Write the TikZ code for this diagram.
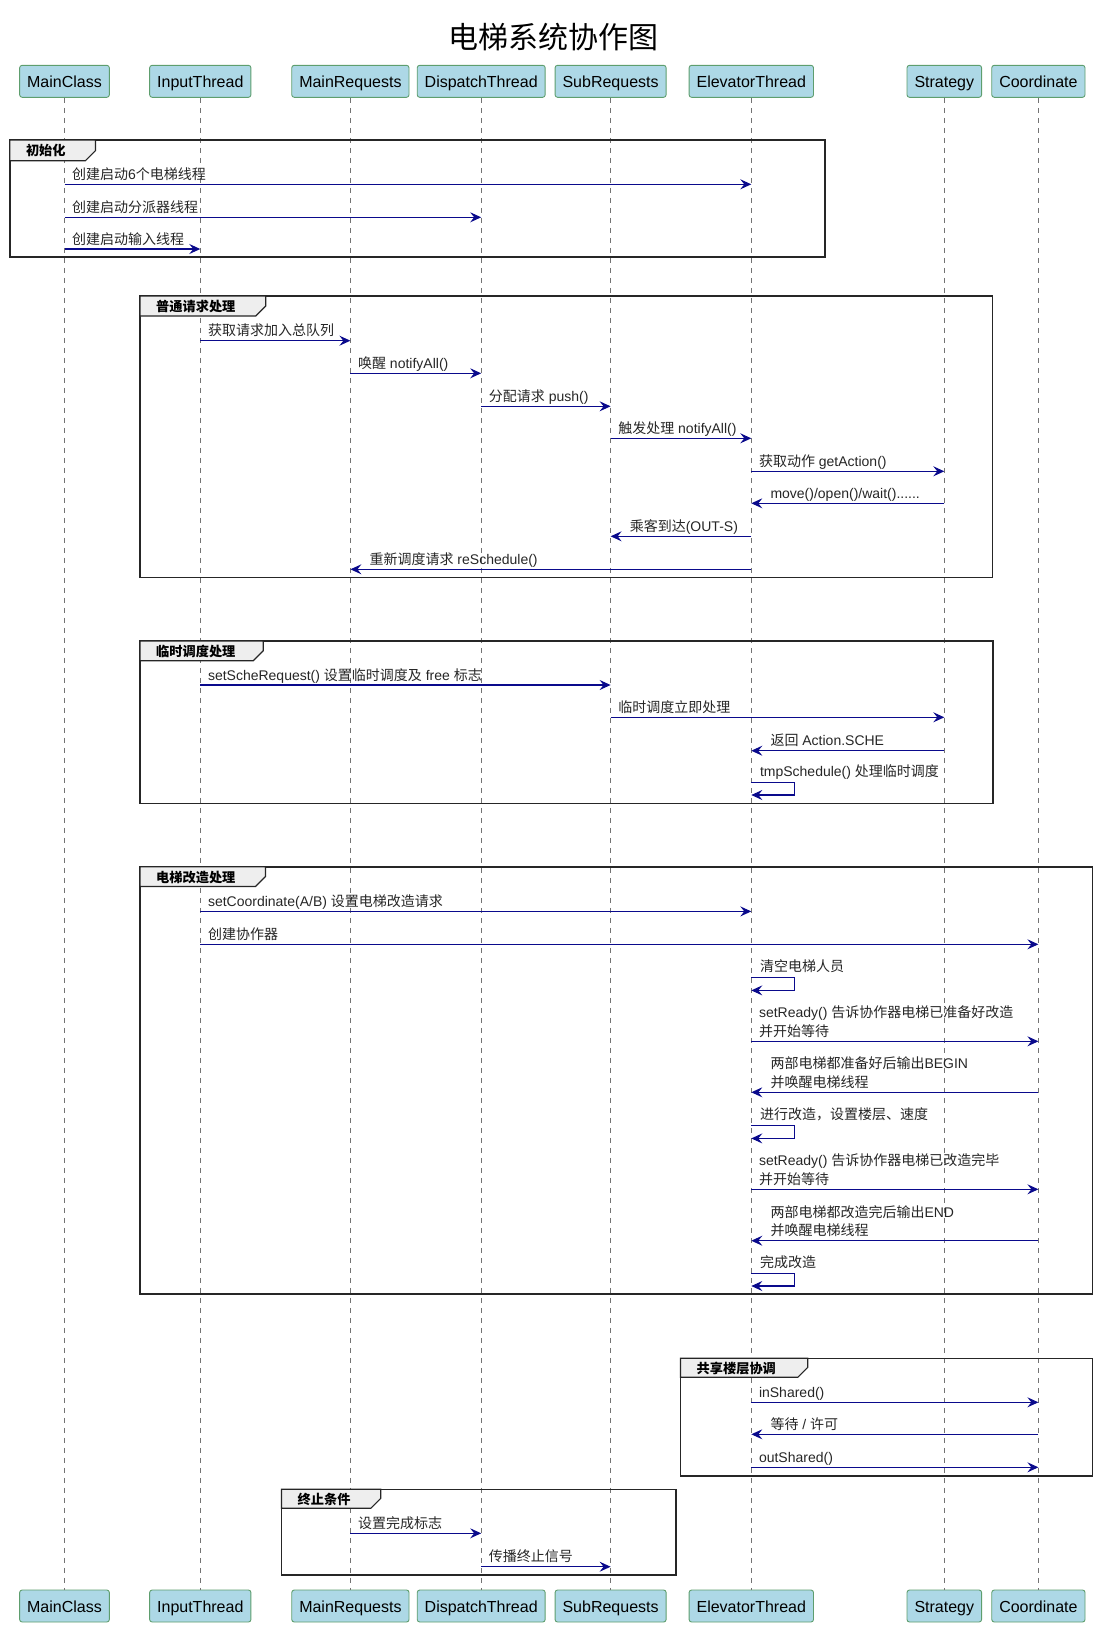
\documentclass[tikz,border=0pt]{standalone}
\usepackage{fontspec}
\setmainfont{Liberation Sans}
\newfontfamily\cjk{Noto Sans CJK SC}
\newcommand\zh[1]{{\cjk #1}}
\usetikzlibrary{arrows.meta,calc}
\definecolor{partfill}{HTML}{ADD8E6}
\definecolor{partborder}{HTML}{5E9E6E}
\definecolor{msgblue}{HTML}{0A0A8C}
\definecolor{tabfill}{HTML}{EEEEEE}
\tikzset{
  part/.style={draw=partborder, fill=partfill, rounded corners=2.5pt, minimum height=32pt,
    inner xsep=7.5pt, inner ysep=0pt, text height=13pt, text depth=1pt,
    line width=0.9pt, font=\fontsize{16}{19}\selectfont},
  life/.style={draw=black!55, dash pattern=on 5pt off 5pt, line width=0.8pt},
  msg/.style={draw=msgblue, line width=1.1pt, -{Stealth[length=11pt,width=10pt,inset=4pt]}},
  lbl/.style={inner sep=0pt, anchor=base west, text=black!85, font=\fontsize{14}{18.7}\selectfont},
  frm/.style={draw=black!85, line width=1.6pt},
  tabshape/.style={draw=black!85, fill=tabfill, line width=1.2pt},
  tablbl/.style={inner sep=0pt, anchor=west, font=\fontsize{13.2}{16}\selectfont\bfseries},
}
% right-going message: from, to, y, name, label
\newcommand\msgR[5]{\draw[msg] (#1 |- 0,#3) -- (#2 |- 0,#3);
  \node[lbl] (#4) at ($(#1 |- 0,#3)+(7.5,-5)$) {#5};}
% left-going message: from (right), to (left), y, name, label
\newcommand\msgL[5]{\draw[msg] (#1 |- 0,#3) -- (#2 |- 0,#3);
  \node[lbl] (#4) at ($(#2 |- 0,#3)+(19,-5)$) {#5};}
% self message: lifeline, y, name, label
\newcommand\msgS[4]{\draw[msg] (#1 |- 0,#2) -- ++(43.5,0) -- ++(0,12.7) -- ($(#1 |- 0,#2)+(0,12.7)$);
  \node[lbl] (#3) at ($(#1 |- 0,#2)+(8.5,-6)$) {#4};}
% frame: left, top, right, bottom, tab right, tab bottom, name, label
\newcommand\frm[8]{\draw[frm] (#1,#2) rectangle (#3,#4);
  \draw[tabshape] (#1,#2) -- (#5,#2) -- (#5,#6-10) -- (#5-10,#6) -- (#1,#6) -- cycle;
  \node[tablbl] (#7) at (#1+16,{(#2+#6)/2+0.5}) {#8};}
\begin{document}
\begin{tikzpicture}[x=1pt,y=-1pt]
\useasboundingbox (0,0) rectangle (1099,1626);
\node[font=\fontsize{30}{36}\selectfont] (title) at (553,37.5) {\zh{电梯系统协作图}};
% participants
\foreach \n/\x/\t in {mc/64.5/MainClass, it/200.3/InputThread, mr/350.4/MainRequests,
    dt/481.2/DispatchThread, sr/610.6/SubRequests, et/751.3/ElevatorThread,
    st/944.3/Strategy, co/1038.4/Coordinate}{
  \node[part] (\n T) at (\x,81.3) {\t};
  \node[part] (\n B) at (\x,1606) {\t};
  \draw[life] (\n T) -- (\n B);
}
% frame 1
\frm{9.8}{140}{824.9}{257.1}{95.4}{160.7}{f1}{\zh{初始化}}
\msgR{mcT}{etT}{184.3}{m1}{\zh{创建启动}6\zh{个电梯线程}}
\msgR{mcT}{dtT}{217.3}{m2}{\zh{创建启动分派器线程}}
\msgR{mcT}{itT}{249}{m3}{\zh{创建启动输入线程}}
% frame 2
\frm{140}{296}{992.5}{577.3}{265.7}{316}{f2}{\zh{普通请求处理}}
\msgR{itT}{mrT}{340.7}{m4}{\zh{获取请求加入总队列}}
\msgR{mrT}{dtT}{373.3}{m5}{\zh{唤醒} notifyAll()}
\msgR{dtT}{srT}{406.3}{m6}{\zh{分配请求} push()}
\msgR{srT}{etT}{438.3}{m7}{\zh{触发处理} notifyAll()}
\msgR{etT}{stT}{471.3}{m8}{\zh{获取动作} getAction()}
\msgL{stT}{etT}{503.3}{m9}{move()/open()/wait()......}
\msgL{etT}{srT}{536.3}{m10}{\zh{乘客到达}(OUT-S)}
\msgL{etT}{mrT}{569.3}{m11}{\zh{重新调度请求} reSchedule()}
% frame 3
\frm{140}{641}{993}{803.3}{263.3}{660.7}{f3}{\zh{临时调度处理}}
\msgR{itT}{srT}{685}{m12}{setScheRequest() \zh{设置临时调度及} free \zh{标志}}
\msgR{srT}{stT}{717.3}{m13}{\zh{临时调度立即处理}}
\msgL{stT}{etT}{750.7}{m14}{\zh{返回} Action.SCHE}
\msgS{etT}{782.3}{m15}{tmpSchedule() \zh{处理临时调度}}
% frame 4
\frm{140}{866.7}{1092.5}{1294}{265.4}{886.5}{f4}{\zh{电梯改造处理}}
\msgR{itT}{etT}{911.4}{m16}{setCoordinate(A/B) \zh{设置电梯改造请求}}
\msgR{itT}{coT}{944.3}{m17}{\zh{创建协作器}}
\msgS{etT}{977.7}{m18}{\zh{清空电梯人员}}
\msgR{etT}{coT}{1041.3}{m19}{\begin{tabular}[b]{@{}l@{}}setReady() \zh{告诉协作器电梯已准备好改造}\\\zh{并开始等待}\end{tabular}}
\msgL{coT}{etT}{1092.3}{m20}{\begin{tabular}[b]{@{}l@{}}\zh{两部电梯都准备好后输出}BEGIN\\\zh{并唤醒电梯线程}\end{tabular}}
\msgS{etT}{1125.7}{m21}{\zh{进行改造，设置楼层、速度}}
\msgR{etT}{coT}{1189.3}{m22}{\begin{tabular}[b]{@{}l@{}}setReady() \zh{告诉协作器电梯已改造完毕}\\\zh{并开始等待}\end{tabular}}
\msgL{coT}{etT}{1240.7}{m23}{\begin{tabular}[b]{@{}l@{}}\zh{两部电梯都改造完后输出}END\\\zh{并唤醒电梯线程}\end{tabular}}
\msgS{etT}{1273.3}{m24}{\zh{完成改造}}
% frame 5
\frm{680.5}{1358.3}{1092.5}{1475.7}{807.8}{1377.3}{f5}{\zh{共享楼层协调}}
\msgR{etT}{coT}{1402.3}{m25}{inShared()}
\msgL{coT}{etT}{1434.3}{m26}{\zh{等待} / \zh{许可}}
\msgR{etT}{coT}{1467.3}{m27}{outShared()}
% frame 6
\frm{281.5}{1489.3}{676}{1575}{380.8}{1508.3}{f6}{\zh{终止条件}}
\msgR{mrT}{dtT}{1533.3}{m28}{\zh{设置完成标志}}
\msgR{dtT}{srT}{1566.7}{m29}{\zh{传播终止信号}}
\end{tikzpicture}
\end{document}
